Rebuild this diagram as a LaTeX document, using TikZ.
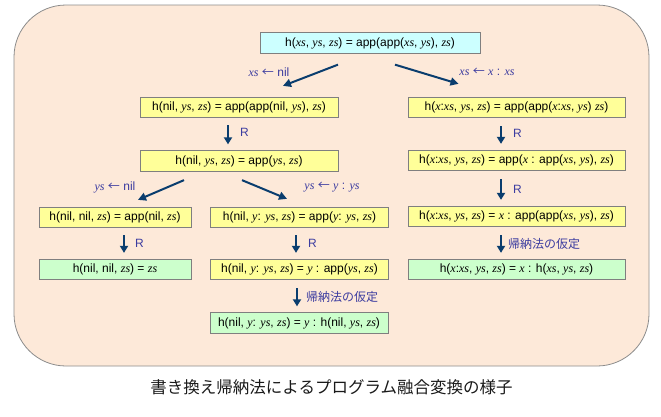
\documentclass[tikz,border=0pt]{standalone}
\usepackage{fontspec}
\setmainfont{Liberation Sans}
\newfontfamily\tms{Liberation Serif}
\newfontfamily\cjk{Noto Sans CJK JP}
\usetikzlibrary{arrows.meta,calc}
\newcommand\iv[1]{{\tms\itshape #1}}
\newcommand\larr{{\cjk ←}}
\definecolor{bgpeach}{HTML}{FDE9D9}
\definecolor{bgedge}{HTML}{8C8C8C}
\definecolor{boxyel}{HTML}{FFFF99}
\definecolor{boxcyan}{HTML}{CCFFFF}
\definecolor{boxgrn}{HTML}{CCFFCC}
\definecolor{boxedge}{HTML}{7F7F7F}
\definecolor{arrnavy}{HTML}{0A3D6E}
\definecolor{lblblue}{HTML}{3C3CA0}
\begin{document}
\begin{tikzpicture}[x=1pt,y=-1pt,
  box/.style={draw=boxedge,line width=0.8pt,rectangle,inner sep=0pt,minimum height=20.5pt,font=\fontsize{12}{14}\selectfont},
  yel/.style={box,fill=boxyel},
  cya/.style={box,fill=boxcyan},
  grn/.style={box,fill=boxgrn},
  wa/.style={minimum width=198pt},
  wb/.style={minimum width=217pt},
  wc/.style={minimum width=152pt},
  wd/.style={minimum width=178pt},
  varrow/.style={draw=arrnavy,line width=2.2pt,-{Triangle[width=8pt,length=7pt]}},
  darrow/.style={draw=arrnavy,line width=2pt,-{Triangle[width=8pt,length=8pt]}},
  lbl/.style={text=lblblue,inner sep=0pt,font=\fontsize{12}{14}\selectfont},
  cjklbl/.style={text=lblblue,inner sep=0pt,font=\cjk\fontsize{12}{14}\selectfont}
]
\useasboundingbox (0,0) rectangle (661,416);
\node[draw=bgedge,line width=0.8pt,fill=bgpeach,rounded corners=52pt,minimum width=635pt,minimum height=361pt,inner sep=0pt] (bg) at (331.5,185.5) {};

\node[cya,minimum width=220pt] (top) at (370,43) {h(\iv{xs}, \iv{ys}, \iv{zs}) = app(app(\iv{xs}, \iv{ys}), \iv{zs})};
\node[yel,wa] (a2) at (239,107.5) {h(nil, \iv{ys}, \iv{zs}) = app(app(nil, \iv{ys}), \iv{zs})};
\node[yel,wa] (a3) at (239,161) {h(nil, \iv{ys}, \iv{zs}) = app(\iv{ys}, \iv{zs})};
\node[yel,wb] (b2) at (516.5,107.5) {h(\iv{x}:\iv{xs}, \iv{ys}, \iv{zs}) = app(app(\iv{x}:\iv{xs}, \iv{ys}) \iv{zs})};
\node[yel,wb] (b3) at (516.5,160.5) {h(\iv{x}:\iv{xs}, \iv{ys}, \iv{zs}) = app(\iv{x} : app(\iv{xs}, \iv{ys}), \iv{zs})};
\node[yel,wb] (b4) at (516.5,216.5) {h(\iv{x}:\iv{xs}, \iv{ys}, \iv{zs}) = \iv{x} : app(app(\iv{xs}, \iv{ys}), \iv{zs})};
\node[grn,wb] (b5) at (516.5,269.5) {h(\iv{x}:\iv{xs}, \iv{ys}, \iv{zs}) = \iv{x} : h(\iv{xs}, \iv{ys}, \iv{zs})};
\node[yel,wc] (c4) at (115,217.5) {h(nil, nil, \iv{zs}) = app(nil, \iv{zs})};
\node[grn,wc] (c5) at (115,269.5) {h(nil, nil, \iv{zs}) = \iv{zs}};
\node[yel,wd] (d4) at (299.5,217.5) {h(nil, \iv{y}: \iv{ys}, \iv{zs}) = app(\iv{y}: \iv{ys}, \iv{zs})};
\node[yel,wd] (d5) at (299.5,269.5) {h(nil, \iv{y}: \iv{ys}, \iv{zs}) = \iv{y} : app(\iv{ys}, \iv{zs})};
\node[grn,wd] (d6) at (299,323) {h(nil, \iv{y}: \iv{ys}, \iv{zs}) = \iv{y} : h(nil, \iv{ys}, \iv{zs})};

% diagonal arrows
\draw[darrow] ($(top.south)+(-32,11)$) -- ($(a2.north)+(44,-11)$);
\draw[darrow] ($(top.south)+(25,11)$) -- ($(b2.north)+(-58,-13)$);
\draw[darrow] ($(a3.south)+(-55,8.5)$) -- ($(c4.north)+(23,-7)$);
\draw[darrow] ($(a3.south)+(3,8.5)$) -- ($(d4.north)+(-12.5,-8)$);
\node[lbl] (l1) at (269,72) {\iv{xs} \larr{} nil};
\node[lbl] (l2) at (487,72) {\iv{xs} \larr{} \iv{x} : \iv{xs}};
\node[lbl] (l3) at (115,187) {\iv{ys} \larr{} nil};
\node[lbl] (l4) at (332,187) {\iv{ys} \larr{} \iv{y} : \iv{ys}};

% vertical arrows
\draw[varrow] ($(a2.south)+(-11,7)$) -- ($(a3.north)+(-11,-6)$);
\draw[varrow] ($(b2.south)+(-15.5,8)$) -- ($(b3.north)+(-15.5,-6)$);
\draw[varrow] ($(b3.south)+(-15.5,8)$) -- ($(b4.north)+(-15.5,-6)$);
\draw[varrow] ($(b4.south)+(-15.5,8)$) -- ($(b5.north)+(-15.5,-6)$);
\draw[varrow] ($(c4.south)+(9,7)$) -- ($(c5.north)+(9,-6)$);
\draw[varrow] ($(d4.south)+(-3.5,7)$) -- ($(d5.north)+(-3.5,-6)$);
\draw[varrow] ($(d5.south)+(-2.5,8)$) -- ($(d6.north)+(-2,-6)$);
\node[lbl,anchor=west] (r1) at (240,132.5) {R};
\node[lbl,anchor=west] (r2) at (513,133) {R};
\node[lbl,anchor=west] (r3) at (513,189) {R};
\node[cjklbl,anchor=west] (k1) at (508,244) {帰納法の仮定};
\node[lbl,anchor=west] (r4) at (135,243) {R};
\node[lbl,anchor=west] (r5) at (308,243) {R};
\node[cjklbl,anchor=west] (k2) at (306,297) {帰納法の仮定};

\node[font=\cjk\fontsize{16.5}{18}\selectfont,text=black!90] (cap) at (331.5,387) {書き換え帰納法によるプログラム融合変換の様子};
\end{tikzpicture}
\end{document}
